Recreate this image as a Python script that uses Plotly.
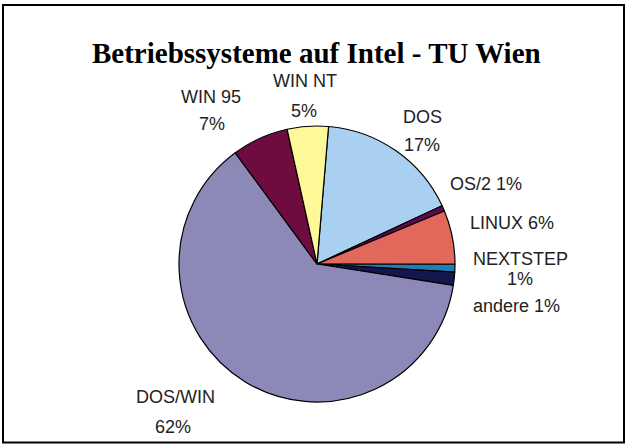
import plotly.graph_objects as go

# Data (clockwise from the DOS slice)
labels = ["DOS", "OS/2", "LINUX", "NEXTSTEP", "andere", "DOS/WIN", "WIN 95", "WIN NT"]
values = [16.7, 0.65, 6.3, 0.9, 1.55, 62.3, 6.6, 4.8]
pct_text = ["17%", "1%", "6%", "1%", "1%", "62%", "7%", "5%"]
colors = ["#a9d0f1", "#5c0a52", "#e1685b", "#1f7fb2", "#16164f", "#8c89b8", "#6e0c40", "#fff898"]

W, H = 627, 445
cx, cy, r = 317, 264, 138

def px(x):
    return x / W

def py(y):
    return 1 - y / H

fig = go.Figure(go.Pie(
    labels=labels,
    values=values,
    sort=False,
    direction="clockwise",
    rotation=4.8,
    marker=dict(colors=colors, line=dict(color="black", width=1.2)),
    textinfo="none",
    hoverinfo="label+percent",
    showlegend=False,
    domain=dict(x=[px(cx - r), px(cx + r)], y=[py(cy + r), py(cy - r)]),
))

label_pos = {
    "WIN 95": ((210.5, 96), (212.5, 123.5)),
    "WIN NT": ((304.7, 80.5), (303.5, 110)),
    "DOS": ((422, 116), (422, 144)),
    "DOS/WIN": ((175, 396.7), (173.3, 426.7)),
    "NEXTSTEP": ((520, 258), (520, 278)),
}
one_line = {
    "OS/2": (486, 183),
    "LINUX": (512, 222),
    "andere": (516.7, 305),
}

lab_font = dict(family="Liberation Sans, Arial, sans-serif", size=18, color="#222222")
ann = []
for name, pct in zip(labels, pct_text):
    if name in label_pos:
        (x1, y1), (x2, y2) = label_pos[name]
        ann.append(dict(x=px(x1), y=py(y1 + 0.5), text=name))
        ann.append(dict(x=px(x2), y=py(y2 + 0.5), text=pct))
    else:
        x1, y1 = one_line[name]
        ann.append(dict(x=px(x1), y=py(y1 + 0.5), text=name + " " + pct))
for a in ann:
    a.update(xref="paper", yref="paper", xanchor="center", yanchor="middle",
             showarrow=False, font=lab_font)

ann.append(dict(x=px(316.5), y=py(53), xref="paper", yref="paper",
                xanchor="center", yanchor="middle", showarrow=False,
                text="<b>Betriebssysteme auf Intel - TU Wien</b>",
                font=dict(family="Liberation Serif, Times New Roman, serif", size=29, color="black")))

fig.update_layout(
    width=W, height=H,
    margin=dict(l=0, r=0, t=0, b=0),
    paper_bgcolor="white",
    plot_bgcolor="white",
    annotations=ann,
    shapes=[dict(type="rect", xref="paper", yref="paper",
                 x0=px(3), x1=px(624), y0=py(442.5), y1=py(5),
                 line=dict(color="black", width=2))],
)

fig.write_html("out.html",
               config={"displayModeBar": False},
               post_script="document.body.style.margin='0';document.body.style.overflow='hidden';")
